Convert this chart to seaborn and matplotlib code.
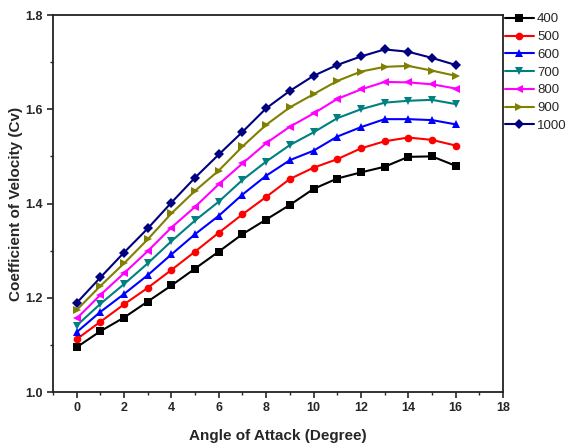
import numpy as np
import pandas as pd
import matplotlib
matplotlib.use("Agg")
import matplotlib.pyplot as plt
from matplotlib.ticker import MultipleLocator
import seaborn as sns

angles = list(range(17))

cv_400 = [1.095, 1.129, 1.158, 1.192, 1.226, 1.262, 1.298, 1.335, 1.366, 1.397,
          1.431, 1.453, 1.466, 1.478, 1.499, 1.500, 1.480]
cv_500 = [1.112, 1.149, 1.186, 1.221, 1.259, 1.298, 1.338, 1.377, 1.414, 1.452,
          1.476, 1.494, 1.517, 1.532, 1.540, 1.535, 1.523]
cv_600 = [1.127, 1.170, 1.208, 1.248, 1.292, 1.335, 1.374, 1.419, 1.459, 1.492,
          1.512, 1.542, 1.562, 1.579, 1.579, 1.577, 1.568]
cv_700 = [1.141, 1.187, 1.229, 1.273, 1.320, 1.364, 1.404, 1.450, 1.489, 1.524,
          1.551, 1.581, 1.600, 1.614, 1.618, 1.620, 1.611]
cv_800 = [1.156, 1.206, 1.252, 1.299, 1.349, 1.393, 1.441, 1.485, 1.528, 1.563,
          1.591, 1.622, 1.642, 1.658, 1.657, 1.653, 1.644]
cv_900 = [1.174, 1.225, 1.273, 1.324, 1.379, 1.427, 1.470, 1.521, 1.567, 1.604,
          1.632, 1.660, 1.680, 1.690, 1.692, 1.682, 1.671]
cv_1000 = [1.189, 1.243, 1.296, 1.347, 1.402, 1.455, 1.504, 1.552, 1.602, 1.639,
           1.671, 1.694, 1.712, 1.727, 1.722, 1.709, 1.694]

series_names = ["400", "500", "600", "700", "800", "900", "1000"]
series_values = [cv_400, cv_500, cv_600, cv_700, cv_800, cv_900, cv_1000]
colors = ["#000000", "#ff0000", "#0000ff", "#008080", "#ff00ff", "#808000", "#000080"]
marker_list = ["s", "o", "^", "v", "<", ">", "D"]

df = pd.DataFrame(
    [(a, v, name) for name, vals in zip(series_names, series_values)
     for a, v in zip(angles, vals)],
    columns=["angle", "cv", "series"],
)

sns.set_style("ticks")
plt.rcParams["font.family"] = ["Liberation Sans", "DejaVu Sans"]
plt.rcParams["font.weight"] = "bold"

fig = plt.figure(figsize=(5.68, 4.48), dpi=100)
ax = fig.add_axes([0.0933, 0.125, 0.7923, 0.8415])

sns.lineplot(
    data=df, x="angle", y="cv", hue="series", style="series",
    hue_order=series_names, style_order=series_names,
    palette=dict(zip(series_names, colors)),
    markers=dict(zip(series_names, marker_list)),
    dashes=False, linewidth=1.5, markersize=5.5, markeredgewidth=0,
    ax=ax,
)

ax.set_xticks(range(0, 19, 2))
ax.set_xlim(-1, 18)
ax.set_ylim(1.0, 1.8)
ax.xaxis.set_minor_locator(MultipleLocator(1))
ax.yaxis.set_major_locator(MultipleLocator(0.2))
ax.yaxis.set_minor_locator(MultipleLocator(0.1))
ax.tick_params(axis="both", which="major", direction="out", length=4, width=1.2,
               labelsize=9)
ax.tick_params(axis="both", which="minor", direction="out", length=2.5, width=1.0)
for lbl in ax.get_xticklabels() + ax.get_yticklabels():
    lbl.set_fontweight("bold")
for side in ["top", "right", "left", "bottom"]:
    ax.spines[side].set_visible(True)
    ax.spines[side].set_linewidth(1.3)
    ax.spines[side].set_color("#222222")

ax.set_xlabel("Angle of Attack (Degree)", fontsize=11, fontweight="bold")
ax.set_ylabel("Coefficient of Velocity (Cv)", fontsize=11, fontweight="bold")
ax.xaxis.set_label_coords(0.5, -0.098)
ax.yaxis.set_label_coords(-0.066, 0.5)

handles, labels = ax.get_legend_handles_labels()
leg = ax.legend(
    handles, labels, loc="upper left", bbox_to_anchor=(1.004, 1.005),
    frameon=False, fontsize=9.5, handlelength=2.2, handletextpad=0.25,
    labelspacing=0.42, borderaxespad=0.0, borderpad=0.0,
)
for t in leg.get_texts():
    t.set_fontweight("normal")

fig.savefig("out.png", dpi=100)
